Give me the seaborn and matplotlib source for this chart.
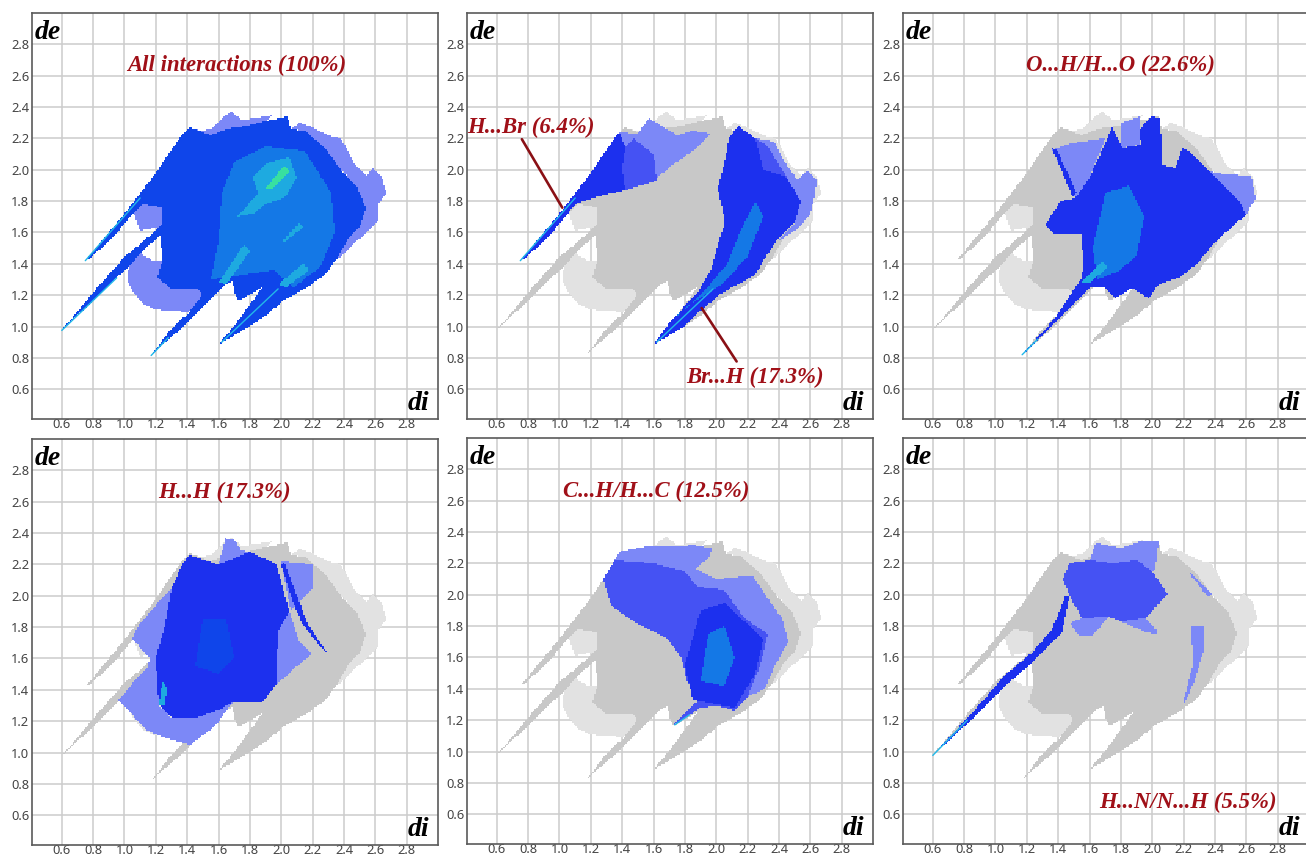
import numpy as np
import matplotlib
matplotlib.use("Agg")
import matplotlib.pyplot as plt
from matplotlib.colors import ListedColormap
from matplotlib.path import Path
import seaborn as sns

# outlines, as (di, de) pairs
BODY = [(0.74,1.405),(0.9,1.60),(1.0,1.72),(1.2,1.98),(1.3,2.13),(1.38,2.24),(1.42,2.27),(1.55,2.22),(1.65,2.26),(1.78,2.28),(1.9,2.31),(2.04,2.34),(2.06,2.26),(2.15,2.25),(2.28,2.14),(2.38,2.00),(2.48,1.90),(2.54,1.76),(2.5,1.63),(2.42,1.55),(2.36,1.44),(2.28,1.33),(2.15,1.24),(2.02,1.17),(1.9,1.07),(1.78,0.99),(1.6,0.885),(1.72,1.03),(1.88,1.25),(1.73,1.165),(1.70,1.22),(1.69,1.29),(1.645,1.27),(1.41,1.03),(1.16,0.813),(1.197,0.85),(1.30,0.99),(1.41,1.086),(1.495,1.20),(1.47,1.24),(1.30,1.24),(1.21,1.31),(1.24,1.42),(1.23,1.58),(1.1,1.47),(1.03,1.38),(0.97,1.33),(0.835,1.2),(0.594,0.97),(0.835,1.257),(1.005,1.45),(1.11,1.535),(1.24,1.65),(1.24,1.76),(1.12,1.78),(1.06,1.73),(1.0,1.655),(0.9,1.54)]
RING = [(1.24,1.42),(1.21,1.31),(1.30,1.24),(1.47,1.24),(1.5,1.2),(1.41,1.09),(1.3,1.10),(1.2,1.107),(1.11,1.15),(1.04,1.245),(1.015,1.31),(1.03,1.38),(1.1,1.47),(1.18,1.42)]
GAP = [(1.07,1.69),(1.10,1.61),(1.24,1.64),(1.24,1.76),(1.12,1.78),(1.06,1.73)]
TOP_FRINGE = [(1.42,2.27),(1.48,2.25),(1.55,2.26),(1.62,2.33),(1.68,2.37),(1.75,2.32),(1.85,2.33),(1.95,2.35),(1.9,2.31),(1.78,2.28),(1.65,2.26),(1.55,2.22)]
RIGHT_FRINGE = [(2.06,2.26),(2.12,2.30),(2.2,2.27),(2.3,2.22),(2.38,2.20),(2.42,2.13),(2.47,2.03),(2.55,1.96),(2.58,2.01),(2.64,1.96),(2.67,1.85),(2.62,1.78),(2.62,1.68),(2.55,1.6),(2.45,1.52),(2.38,1.44),(2.36,1.44),(2.42,1.55),(2.5,1.63),(2.54,1.76),(2.48,1.90),(2.38,2.00),(2.28,2.14),(2.15,2.25)]

ALL_MID = [(1.55,1.3),(1.6,1.55),(1.62,1.85),(1.7,2.05),(1.9,2.15),(2.15,2.12),(2.32,1.85),(2.34,1.6),(2.25,1.38),(2.08,1.25),(1.95,1.36),(1.7,1.32)]
ALL_CYAN = [(1.82,1.95),(1.9,2.04),(2.05,2.08),(2.1,1.95),(2.02,1.82),(1.9,1.78),(1.82,1.72),(1.72,1.7),(1.85,1.85)]
ALL_GREEN = [(1.9,1.88),(2.02,2.03),(2.05,1.99),(1.95,1.88)]
ALL_STREAK = [(2.0,1.54),(2.12,1.66),(2.14,1.63),(2.02,1.54)]
ALL_FLOW_LOW = [(1.6,1.28),(1.76,1.52),(1.8,1.48),(1.65,1.27)]
ALL_FLOW_RIGHT = [(1.98,1.27),(2.14,1.4),(2.18,1.36),(2.03,1.25)]

BR_LEFT = [(0.74,1.405),(0.9,1.60),(1.0,1.72),(1.2,1.98),(1.3,2.13),(1.38,2.24),(1.42,2.15),(1.4,2.0),(1.42,1.87),(1.25,1.83),(1.12,1.79),(1.06,1.73),(1.0,1.655),(0.9,1.54)]
BR_LEFT_SPARSE = [(1.38,2.24),(1.5,2.23),(1.57,2.33),(1.65,2.28),(1.75,2.22),(1.85,2.25),(1.97,2.23),(1.85,2.12),(1.72,2.03),(1.6,1.93),(1.42,1.87),(1.4,2.0),(1.42,2.15)]
BR_LEFT_MEDIUM = [(1.42,1.87),(1.4,2.0),(1.42,2.15),(1.47,2.2),(1.6,2.1),(1.62,1.93)]
BR_RIGHT = [(1.6,0.885),(1.78,0.99),(1.9,1.10),(2.03,1.21),(2.25,1.33),(2.3,1.42),(2.38,1.54),(2.5,1.66),(2.54,1.8),(2.45,1.95),(2.3,2.0),(2.25,2.2),(2.14,2.28),(2.08,2.2),(2.056,2.06),(2.01,1.885),(2.056,1.67),(2.01,1.52),(1.97,1.37),(1.886,1.225),(1.69,1.01)]
BR_RIGHT_SPARSE = [(2.25,2.2),(2.3,2.0),(2.45,1.95),(2.54,1.8),(2.5,1.66),(2.4,1.55),(2.52,1.62),(2.6,1.72),(2.63,1.84),(2.64,1.93),(2.58,2.0),(2.52,1.93),(2.43,2.06),(2.37,2.18)]
BR_RIGHT_MEDIUM = [(2.3,2.0),(2.25,2.2),(2.33,2.15),(2.45,1.95)]
BR_MID = [(1.7,1.03),(1.85,1.15),(2.05,1.28),(2.2,1.45),(2.3,1.7),(2.25,1.8),(2.15,1.6),(2.07,1.4),(1.9,1.2)]

OH_BODY = [(1.165,0.813),(1.34,0.98),(1.596,1.246),(1.70,1.246),(1.766,1.18),(1.87,1.246),(1.98,1.18),(2.04,1.267),(2.17,1.31),(2.28,1.395),(2.406,1.544),(2.6,1.715),(2.555,1.8),(2.36,1.99),(2.235,2.12),(2.19,2.14),(2.15,2.01),(2.065,2.03),(2.05,2.33),(1.99,2.34),(1.915,2.25),(1.93,2.16),(1.81,2.14),(1.745,2.27),(1.6,1.95),(1.51,1.82),(1.414,1.8),(1.32,1.65),(1.38,1.59),(1.55,1.59),(1.56,1.395),(1.55,1.31),(1.38,1.055)]
OH_SPARSE_RIGHT = [(2.555,1.8),(2.6,1.715),(2.66,1.82),(2.63,1.96),(2.47,1.97),(2.36,1.99)]
OH_SPARSE_LEFT = [(1.36,2.13),(1.48,2.17),(1.70,2.2),(1.6,1.95),(1.51,1.82),(1.42,2.0)]
OH_BAND = [(1.36,2.14),(1.39,2.13),(1.52,1.85),(1.49,1.83)]
OH_SPARSE_TOP = [(1.8,2.3),(1.92,2.34),(1.915,2.16),(1.8,2.14)]
OH_MID = [(1.65,1.3),(1.62,1.5),(1.7,1.85),(1.85,1.9),(1.95,1.7),(1.9,1.45),(1.78,1.35)]
OH_CYAN = [(1.55,1.28),(1.68,1.42),(1.72,1.38),(1.6,1.28)]

HH_BODY = [(1.41,2.26),(1.6,2.2),(1.8,2.28),(1.97,2.2),(2.05,1.9),(1.98,1.77),(1.965,1.43),(1.88,1.32),(1.69,1.32),(1.6,1.27),(1.45,1.22),(1.3,1.22),(1.22,1.3),(1.2,1.6),(1.26,1.82),(1.3,2.05),(1.37,2.2)]
HH_SPARSE_LEFT = [(1.3,2.05),(1.26,1.82),(1.2,1.6),(1.22,1.3),(1.3,1.22),(1.45,1.22),(1.6,1.27),(1.69,1.32),(1.58,1.17),(1.42,1.05),(1.24,1.1),(1.13,1.15),(1.037,1.257),(0.96,1.33),(1.05,1.44),(1.144,1.534),(1.16,1.6),(1.05,1.726),(1.09,1.81),(1.2,1.94)]
HH_SPARSE_TOP = [(1.6,2.2),(1.645,2.365),(1.7,2.36),(1.745,2.29),(1.8,2.28)]
HH_SPARSE_UR = [(2.0,2.22),(2.2,2.2),(2.2,2.05),(2.06,1.9)]
HH_SPARSE_LR = [(1.98,1.77),(2.05,1.9),(2.12,1.7),(2.2,1.63),(2.1,1.55),(1.965,1.43)]
HH_ARC = [(2.0,2.2),(2.02,2.21),(2.1,2.0),(2.17,1.82),(2.29,1.64),(2.26,1.66),(2.13,1.83),(2.06,2.0)]
HH_MID = [(1.45,1.55),(1.5,1.85),(1.65,1.85),(1.7,1.6),(1.6,1.5)]
HH_CYAN = [(1.22,1.3),(1.24,1.45),(1.27,1.42),(1.26,1.3)]

CH_BODY = [(1.278,2.1),(1.35,2.22),(1.6,2.2),(1.8,2.15),(1.88,2.05),(2.05,2.03),(2.18,1.85),(2.33,1.75),(2.28,1.55),(2.2,1.35),(2.12,1.26),(2.01,1.29),(1.9,1.28),(1.73,1.165),(1.74,1.19),(1.886,1.325),(1.81,1.46),(1.78,1.59),(1.69,1.72),(1.48,1.826),(1.33,1.93)]
CH_SPARSE = [(1.35,2.22),(1.385,2.274),(1.566,2.31),(1.865,2.316),(1.97,2.295),(1.96,2.24),(1.865,2.167),(2.0,2.1),(2.23,2.125),(2.33,1.975),(2.42,1.85),(2.46,1.7),(2.376,1.55),(2.31,1.4),(2.2,1.35),(2.28,1.55),(2.33,1.75),(2.18,1.85),(2.05,2.03),(1.88,2.05),(1.8,2.15),(1.6,2.2)]
CH_DENSE = [(1.85,1.33),(1.8,1.55),(1.9,1.9),(2.05,1.95),(2.3,1.72),(2.25,1.5),(2.12,1.28),(2.0,1.3)]
CH_MID = [(1.9,1.45),(1.95,1.75),(2.05,1.8),(2.12,1.6),(2.05,1.42)]

HN_BAND = [(0.594,0.97),(0.85,1.246),(1.063,1.49),(1.233,1.63),(1.36,1.78),(1.447,1.99),(1.47,1.99),(1.425,1.758),(1.233,1.566),(1.084,1.438),(0.87,1.225)]
HN_FAN = [(1.43,2.1),(1.47,2.2),(1.6,2.22),(1.75,2.2),(1.9,2.22),(2.0,2.15),(2.1,2.0),(2.0,1.9),(1.95,1.85),(1.8,1.83),(1.72,1.86),(1.55,1.85),(1.47,2.0)]
HN_TAIL = [(1.8,1.83),(1.97,1.758),(2.03,1.747),(2.03,1.77),(1.95,1.85)]
HN_BOWL = [(1.478,1.82),(1.55,1.85),(1.72,1.86),(1.62,1.74),(1.53,1.74)]
HN_TOP = [(1.6,2.22),(1.64,2.33),(1.8,2.3),(1.94,2.344),(2.04,2.344),(2.02,2.16),(2.0,2.15),(1.9,2.22),(1.75,2.2)]
HN_SIDE = [(2.25,1.8),(2.33,1.8),(2.33,1.65),(2.27,1.45),(2.2,1.3),(2.2,1.33),(2.26,1.55)]
HN_UPPER = [(2.24,2.15),(2.38,2.0),(2.36,1.98),(2.25,2.12)]

# bright ridges along the spikes: di pair, de pair
RIDGE_A = ((0.75, 1.1), (1.42, 1.82))
RIDGE_B = ((0.6, 0.95), (0.975, 1.31))
RIDGE_C = ((1.17, 1.28), (0.815, 0.93))
RIDGE_D = ((1.62, 1.98), (0.9, 1.24))
RIDGE_HN = ((0.6, 0.82), (0.975, 1.2))
RIDGE_CH = ((1.735, 1.83), (1.17, 1.235))
RIDGE_OH = ((1.17, 1.27), (0.82, 0.92))

TICKS = [0.6, 0.8, 1.0, 1.2, 1.4, 1.6, 1.8, 2.0, 2.2, 2.4, 2.6, 2.8]
LEVEL_COLORS = ['#e2e2e2', '#c8c8c8', '#7c88f7', '#4552f3', '#1c30ee', '#0f45ea', '#1478e6', '#1eaae0', '#38e0a0']
GREY_SPARSE, GREY, SPARSE, SPECK, BLUE, BODY_BLUE, MID, CYAN, GREEN = 1, 2, 3, 4, 5, 6, 7, 8, 9

GREY_BASE = [(RING, GREY_SPARSE), (GAP, GREY_SPARSE), (TOP_FRINGE, GREY_SPARSE), (RIGHT_FRINGE, GREY_SPARSE), (BODY, GREY)]

PANELS = [
    dict(pos=(32, 13), layers=[(RING, SPARSE), (GAP, SPARSE), (TOP_FRINGE, SPARSE), (RIGHT_FRINGE, SPARSE), (BODY, BODY_BLUE),
                               (ALL_MID, MID), (ALL_FLOW_LOW, CYAN), (ALL_FLOW_RIGHT, CYAN), (ALL_CYAN, CYAN), (ALL_GREEN, GREEN), (ALL_STREAK, CYAN)],
         ridges=[RIDGE_A, RIDGE_B, RIDGE_C, RIDGE_D]),
    dict(pos=(467, 13), layers=GREY_BASE + [(BR_LEFT_SPARSE, SPARSE), (BR_RIGHT_SPARSE, SPARSE), (BR_LEFT_MEDIUM, SPECK), (BR_RIGHT_MEDIUM, SPECK),
                                            (BR_LEFT, BLUE), (BR_RIGHT, BLUE), (BR_MID, MID)],
         ridges=[RIDGE_A, RIDGE_D]),
    dict(pos=(903, 13), layers=GREY_BASE + [(OH_SPARSE_RIGHT, SPARSE), (OH_SPARSE_LEFT, SPARSE), (OH_SPARSE_TOP, SPARSE), (OH_BAND, BLUE),
                                            (OH_BODY, BLUE), (OH_MID, MID), (OH_CYAN, CYAN)],
         ridges=[RIDGE_OH]),
    dict(pos=(32, 439), layers=GREY_BASE + [(HH_SPARSE_LEFT, SPARSE), (HH_SPARSE_TOP, SPARSE), (HH_SPARSE_UR, SPARSE), (HH_SPARSE_LR, SPARSE),
                                            (HH_BODY, BLUE), (HH_ARC, BLUE), (HH_MID, BODY_BLUE), (HH_CYAN, CYAN)],
         ridges=[]),
    dict(pos=(467, 438), layers=GREY_BASE + [(CH_SPARSE, SPARSE), (CH_BODY, SPECK), (CH_DENSE, BLUE), (CH_MID, MID)],
         ridges=[RIDGE_CH]),
    dict(pos=(903, 438), layers=GREY_BASE + [(HN_TOP, SPARSE), (HN_BOWL, SPARSE), (HN_TAIL, SPARSE), (HN_SIDE, SPARSE), (HN_UPPER, SPARSE),
                                             (HN_FAN, SPECK), (HN_BAND, BLUE)],
         ridges=[RIDGE_HN]),
]

# label text, axes-fraction x, y
PANEL_LABELS = [
    [("All interactions (100%)", 0.505, 0.872)],
    [("H...Br (6.4%)", 0.158, 0.719), ("Br...H (17.3%)", 0.709, 0.103)],
    [("O...H/H...O (22.6%)", 0.536, 0.872)],
    [("H...H (17.3%)", 0.475, 0.869)],
    [("C...H/H...C (12.5%)", 0.465, 0.869)],
    [("H...N/N...H (5.5%)", 0.702, 0.103)],
]
LEADERS = [((0.76, 1.018), (2.195, 1.758)), ((1.907, 2.13), (1.118, 0.777))]

W, H = 1306, 855
SIZE = 406
LO, HI, STEP = 0.41, 3.0, 0.01

sns.set_style("white")
plt.rcParams['font.family'] = ['Noto Sans', 'DejaVu Sans']

n = int(round((HI - LO) / STEP))
centers = LO + (np.arange(n) + 0.5) * STEP
cx, cy = np.meshgrid(centers, centers)
cells = np.column_stack([cx.ravel(), cy.ravel()])


def to_cell(v):
    return (np.asarray(v) - LO) / STEP


def rasterize(layers):
    grid = np.full(cx.shape, np.nan)
    for outline, level in layers:
        inside = Path(outline).contains_points(cells).reshape(cx.shape)
        grid[inside] = level
    return grid


fig = plt.figure(figsize=(W / 100, H / 100), dpi=100)
for i, panel in enumerate(PANELS):
    x0, y0 = panel['pos']
    ax = fig.add_axes([x0 / W, 1 - (y0 + SIZE) / H, SIZE / W, SIZE / H])
    sns.heatmap(rasterize(panel['layers']), ax=ax, cmap=ListedColormap(LEVEL_COLORS), vmin=0.5, vmax=9.5,
                cbar=False, xticklabels=False, yticklabels=False)
    for xs, ys in panel['ridges']:
        sns.lineplot(x=to_cell(xs), y=to_cell(ys), ax=ax, color='#22b8e8', linewidth=1.0, sort=False,
                     estimator=None, legend=False)
    if i == 1:
        for xs, ys in LEADERS:
            sns.lineplot(x=to_cell(xs), y=to_cell(ys), ax=ax, color='#8a1015', linewidth=1.9, sort=False,
                         estimator=None, legend=False)
    ax.set_xlim(0, n)
    ax.set_ylim(0, n)
    ax.set_xlabel('')
    ax.set_ylabel('')

    ax.set_xticks(to_cell(TICKS))
    ax.set_yticks(to_cell(TICKS))
    ax.set_xticklabels([f'{t:.1f}' for t in TICKS])
    ax.set_yticklabels([f'{t:.1f}' for t in TICKS])
    ax.tick_params(length=0, labelsize=9.3, labelcolor='#444444')
    ax.tick_params(axis='x', pad=-1)
    ax.tick_params(axis='y', pad=2)
    ax.grid(True, color='#cccccc', linewidth=1.1)
    ax.set_axisbelow(True)
    for spine in ax.spines.values():
        spine.set_visible(True)
        spine.set_color('#5a5a5a')
        spine.set_linewidth(1.2)

    ax.text(0.039, 0.953, 'de', transform=ax.transAxes, ha='center', va='center', family='Liberation Serif',
            style='italic', weight='bold', fontsize=20, color='black')
    ax.text(0.951, 0.037, 'di', transform=ax.transAxes, ha='center', va='center', family='Liberation Serif',
            style='italic', weight='bold', fontsize=20, color='black')
    for label, lx, ly in PANEL_LABELS[i]:
        ax.text(lx, ly, label, transform=ax.transAxes, ha='center', va='center', family='Liberation Serif',
                style='italic', weight='bold', fontsize=16.4, color='#a01018')

fig.savefig('out.png', dpi=100)
